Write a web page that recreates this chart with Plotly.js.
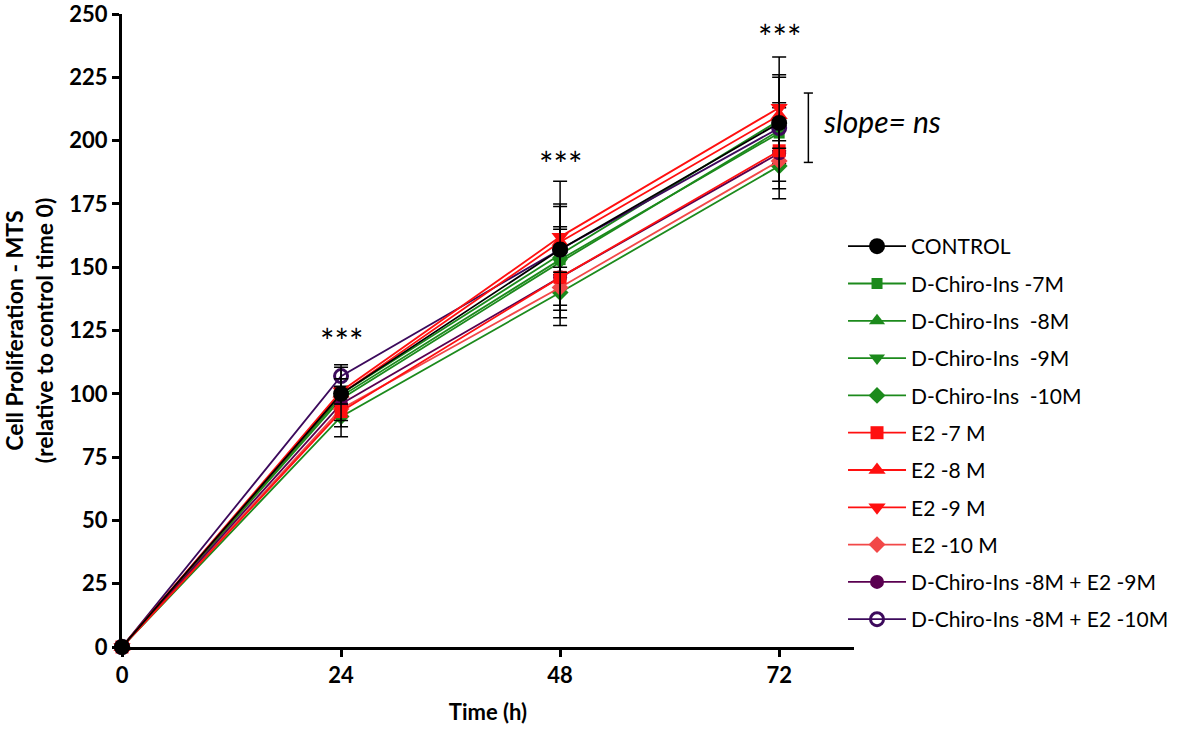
<!DOCTYPE html>
<html>
<head>
<meta charset="utf-8">
<script src="https://cdn.plot.ly/plotly-3.0.1.min.js"></script>
<style>body{margin:0;background:#fff}</style>
</head>
<body>
<div id="plot" style="width:1181px;height:731px"></div>
<script>
// time points (h)
const hours = [0, 24, 48, 72];
const yTicks = [0, 25, 50, 75, 100, 125, 150, 175, 200, 225, 250];

// series values (relative to control time 0)
const control   = [0, 100, 157, 207];
const dci7      = [0, 99, 153, 203];
const dci8      = [0, 100, 155, 208];
const dci9      = [0, 98, 152, 204];
const dci10     = [0, 91, 140, 190];
const e2_7      = [0, 93, 146, 196];
const e2_8      = [0, 100, 160, 210];
const e2_9      = [0, 101, 162, 213];
const e2_10     = [0, 94, 142, 192];
const mix9      = [0, 96, 146, 195];
const mix10     = [0, 107, 157, 205];

// error (SD) for some series
const controlErr = [0, 10.5, 27, 26];
const e2_7Err    = [0, 10, 19, 19];
const e2_9Err    = [0, 5, 12, 13];
const dci8Err    = [0, 6, 20, 17];
const dci10Err   = [0, 4, 7, 6];
const mix10Err   = [0, 4.5, 9, 8];

// significance marks
const starX = [24, 48, 72];
const starY = [121, 191, 241];
const slopeBracket = [191.4, 218.8];

const green = "#1c8a1c";
const red = "#ff1010";
const lightRed = "#f24848";
const purple = "#5a0050";
const darkPurple = "#3c0a5c";
const fam = 'Lato, sans-serif';

let mk = (name, y, color, symbol, size, err, extra) => {
    let t = {
        x: hours, y: y, name: name,
        mode: 'lines+markers',
        line: {color: color, width: 1.8},
        marker: {color: color, symbol: symbol, size: size},
        cliponaxis: false,
        legendgroup: name
    };
    if (err) {
        t.error_y = {type: 'data', array: err, visible: true, color: '#000', thickness: 1.5, width: 7};
    }
    return Object.assign(t, extra || {});
};

let traces = [
    mk('CONTROL', control, '#000', 'circle', 16, controlErr),
    mk('D-Chiro-Ins -7M', dci7, green, 'square', 11),
    mk('D-Chiro-Ins  -8M', dci8, green, 'triangle-up', 14, dci8Err),
    mk('D-Chiro-Ins  -9M', dci9, green, 'triangle-down', 14),
    mk('D-Chiro-Ins  -10M', dci10, green, 'diamond', 13, dci10Err),
    mk('E2 -7 M', e2_7, red, 'square', 13, e2_7Err),
    mk('E2 -8 M', e2_8, red, 'triangle-up', 15),
    mk('E2 -9 M', e2_9, red, 'triangle-down', 15, e2_9Err),
    mk('E2 -10 M', e2_10, lightRed, 'diamond', 13),
    mk('D-Chiro-Ins -8M + E2 -9M', mix9, purple, 'circle', 14),
    mk('D-Chiro-Ins -8M + E2 -10M', mix10, darkPurple, 'circle-open', 14, mix10Err,
       {marker: {color: darkPurple, symbol: 'circle-open', size: 13, line: {width: 3, color: darkPurple}}})
];

// draw order: put control and the top reds on top
let order = [1,2,3,4,8,9,5,10,6,7,0];
let drawn = order.map(i => Object.assign({}, traces[i], {legendrank: i + 1}));

let tickFont = {family: fam, size: 22, color: '#000', weight: 'bold'};

let annotations = starX.map((x, i) => ({
    x: x, y: starY[i], text: '***', showarrow: false,
    font: {family: fam, size: 34, color: '#000'}
}));
annotations.push({
    x: 76.6, y: 207.8, text: '<i>slope= ns</i>', showarrow: false, xanchor: 'left',
    font: {family: fam, size: 30, color: '#000'}
});

let bx = 75.2;
let shapes = [
    {type: 'line', x0: bx, x1: bx, y0: slopeBracket[0], y1: slopeBracket[1], line: {color: '#000', width: 1.5}},
    {type: 'line', x0: bx - 0.5, x1: bx + 0.5, y0: slopeBracket[0], y1: slopeBracket[0], line: {color: '#000', width: 1.5}},
    {type: 'line', x0: bx - 0.5, x1: bx + 0.5, y0: slopeBracket[1], y1: slopeBracket[1], line: {color: '#000', width: 1.5}}
];

let layout = {
    width: 1181, height: 731,
    margin: {l: 122, r: 327, t: 14, b: 84, autoexpand: false},
    paper_bgcolor: '#fff', plot_bgcolor: '#fff',
    showlegend: true,
    legend: {
        x: 0.985, y: 0.665, xanchor: 'left', yanchor: 'top',
        font: {family: fam, size: 21, color: '#000'},
        tracegroupgap: 7, itemwidth: 58,
        bgcolor: 'rgba(0,0,0,0)'
    },
    xaxis: {
        range: [0, 80.2], tickvals: hours, ticktext: hours.map(String),
        showgrid: false, zeroline: false,
        showline: true, linecolor: '#000', linewidth: 3,
        ticks: 'outside', ticklen: 7, tickwidth: 2.5, tickcolor: '#000',
        tickfont: tickFont, automargin: false,
        title: {text: 'Time (h)', font: {family: fam, size: 22, color: '#000', weight: 'bold'}, standoff: 18}
    },
    yaxis: {
        range: [0, 250.02], tickvals: yTicks, ticktext: yTicks.map(String),
        showgrid: false, zeroline: false,
        showline: true, linecolor: '#000', linewidth: 3,
        ticks: 'outside', ticklen: 7, tickwidth: 2.5, tickcolor: '#000',
        tickfont: tickFont, automargin: false, ticklabeloverflow: 'allow',
        title: {text: 'Cell Proliferation - MTS<br>(relative to control time 0)',
                font: {family: fam, size: 23, color: '#000', weight: 'bold'}, standoff: 12}
    },
    annotations: annotations,
    shapes: shapes
};

Plotly.newPlot(document.getElementById('plot'), drawn, layout, {displayModeBar: false});
</script>
</body>
</html>
